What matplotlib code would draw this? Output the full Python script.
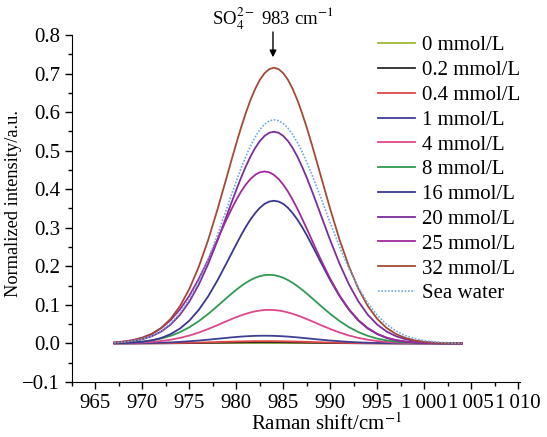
import numpy as np
import matplotlib
matplotlib.use("Agg")
import matplotlib.pyplot as plt
from matplotlib.ticker import MultipleLocator, FixedLocator

# --- Global Plotting Settings ---
plt.rcParams['font.family'] = 'serif'
plt.rcParams['font.serif'] = ['Liberation Serif', 'DejaVu Serif']
plt.rcParams['mathtext.fontset'] = 'stix'
plt.rcParams['font.size'] = 15

# --- Spectra (normalized Raman intensity, SO4 band) ---
# sampled every 1 cm-1 on the wings and every 0.5 cm-1 around the peak
shift = np.concatenate([np.arange(967, 979), np.arange(979, 989, 0.5), np.arange(989, 1005)])

c_0 = [0.0] * 48
c_02 = [0, 0, 0, 0.0001, 0.0002, 0.0003, 0.0004, 0.0006, 0.0008, 0.0011, 0.0015, 0.0018,
        0.0022, 0.0023, 0.0025, 0.0026, 0.0028, 0.0029, 0.0029, 0.003, 0.003, 0.003,
        0.0029, 0.0029, 0.0028, 0.0026, 0.0025, 0.0023, 0.0022, 0.002, 0.0018, 0.0016,
        0.0015, 0.0011, 0.0008, 0.0006, 0.0004, 0.0003, 0.0002, 0.0001, 0, 0, 0, 0, 0, 0, 0, 0]
c_04 = [0, 0.0001, 0.0001, 0.0002, 0.0003, 0.0005, 0.0008, 0.0012, 0.0017, 0.0023, 0.0029, 0.0036,
        0.0044, 0.0047, 0.0050, 0.0053, 0.0055, 0.0057, 0.0059, 0.006, 0.006, 0.006,
        0.0059, 0.0057, 0.0055, 0.0053, 0.0050, 0.0047, 0.0044, 0.004, 0.0036, 0.0033,
        0.0029, 0.0023, 0.0017, 0.0012, 0.0008, 0.0005, 0.0003, 0.0002, 0.0001, 0.0001,
        0, 0, 0, 0, 0, 0]
c_1 = [0.0001, 0.0002, 0.0004, 0.0007, 0.0011, 0.0018, 0.0027, 0.0040, 0.0056, 0.0075, 0.0097, 0.0121,
       0.0145, 0.0157, 0.0167, 0.0177, 0.0185, 0.0191, 0.0196, 0.0199, 0.020, 0.0199,
       0.0196, 0.0191, 0.0185, 0.0177, 0.0167, 0.0157, 0.0145, 0.0133, 0.0121, 0.0109,
       0.0097, 0.0075, 0.0056, 0.0040, 0.0027, 0.0018, 0.0011, 0.0007, 0.0004, 0.0002,
       0.0001, 0, 0, 0, 0, 0]
c_4 = [0.0004, 0.0007, 0.0013, 0.0023, 0.0038, 0.0062, 0.0096, 0.0143, 0.0205, 0.0282, 0.0374, 0.0475,
       0.0580, 0.0632, 0.0681, 0.0726, 0.0768, 0.0803, 0.0832, 0.0853, 0.0866, 0.087,
       0.0866, 0.0853, 0.0832, 0.0803, 0.0768, 0.0726, 0.0681, 0.0632, 0.0580, 0.0528,
       0.0475, 0.0374, 0.0282, 0.0205, 0.0143, 0.0096, 0.0062, 0.0038, 0.0023, 0.0013,
       0.0007, 0.0004, 0.0002, 0.0001, 0, 0]
c_8 = [0.0008, 0.0015, 0.0027, 0.0046, 0.0078, 0.0126, 0.0196, 0.0293, 0.0420, 0.0578, 0.0765, 0.0972,
       0.1187, 0.1292, 0.1393, 0.1486, 0.1571, 0.1643, 0.1702, 0.1744, 0.1771, 0.178,
       0.1771, 0.1744, 0.1702, 0.1643, 0.1571, 0.1486, 0.1393, 0.1292, 0.1187, 0.1080,
       0.0972, 0.0765, 0.0578, 0.0420, 0.0293, 0.0196, 0.0126, 0.0078, 0.0046, 0.0027,
       0.0015, 0.0008, 0.0004, 0.0002, 0.0001, 0]
c_16 = [0.0005, 0.0011, 0.0022, 0.0044, 0.0081, 0.0141, 0.0241, 0.0385, 0.0592, 0.0870, 0.1221, 0.1639,
        0.2102, 0.2340, 0.2575, 0.2804, 0.3019, 0.3212, 0.3378, 0.3516, 0.3619, 0.3679,
        0.370, 0.3679, 0.3619, 0.3516, 0.3378, 0.3212, 0.3019, 0.2804, 0.2575, 0.2340,
        0.2102, 0.1639, 0.1221, 0.0870, 0.0592, 0.0385, 0.0241, 0.0141, 0.0081, 0.0044,
        0.0022, 0.0011, 0.0005, 0.0002, 0.0001, 0]
c_20 = [0.0017, 0.0033, 0.0061, 0.0109, 0.0187, 0.0308, 0.0488, 0.0743, 0.1087, 0.1526, 0.2060, 0.2673,
        0.3330, 0.3662, 0.3986, 0.4297, 0.4584, 0.4845, 0.5067, 0.5248, 0.5380, 0.5463,
        0.549, 0.5463, 0.5380, 0.5248, 0.5067, 0.4845, 0.4584, 0.4297, 0.3986, 0.3662,
        0.3330, 0.2673, 0.2060, 0.1526, 0.1087, 0.0743, 0.0488, 0.0308, 0.0187, 0.0109,
        0.0061, 0.0033, 0.0017, 0.0008, 0.0004, 0.0002]
c_25 = [0.0027, 0.0050, 0.0088, 0.0152, 0.0250, 0.0397, 0.0603, 0.0883, 0.1240, 0.1674, 0.2171, 0.2705,
        0.3238, 0.3491, 0.3724, 0.3936, 0.4117, 0.4264, 0.4371, 0.4438, 0.446, 0.4438,
        0.4371, 0.4264, 0.4117, 0.3936, 0.3724, 0.3491, 0.3238, 0.2975, 0.2705, 0.2435,
        0.2171, 0.1674, 0.1240, 0.0883, 0.0603, 0.0397, 0.0250, 0.0152, 0.0088, 0.0050,
        0.0027, 0.0014, 0.0007, 0.0003, 0.0001, 0.0001]
c_32 = [0.0022, 0.0043, 0.0079, 0.0142, 0.0243, 0.0401, 0.0636, 0.0967, 0.1416, 0.1988, 0.2683, 0.3481,
        0.4336, 0.4769, 0.5191, 0.5596, 0.5970, 0.6310, 0.6599, 0.6835, 0.7007, 0.7114,
        0.715, 0.7114, 0.7007, 0.6835, 0.6599, 0.6310, 0.5970, 0.5596, 0.5191, 0.4769,
        0.4336, 0.3481, 0.2683, 0.1988, 0.1416, 0.0967, 0.0636, 0.0401, 0.0243, 0.0142,
        0.0079, 0.0043, 0.0022, 0.0011, 0.0005, 0.0002]
sea = [0.0018, 0.0035, 0.0064, 0.0115, 0.0197, 0.0325, 0.0516, 0.0785, 0.1148, 0.1612, 0.2177, 0.2823,
       0.3518, 0.3869, 0.4211, 0.4540, 0.4843, 0.5119, 0.5353, 0.5545, 0.5684, 0.5771,
       0.58, 0.5775, 0.5701, 0.5580, 0.5417, 0.5210, 0.4971, 0.4701, 0.4408, 0.4098,
       0.3776, 0.3126, 0.2500, 0.1937, 0.1444, 0.1044, 0.0731, 0.0493, 0.0319, 0.0203,
       0.0122, 0.0070, 0.0041, 0.0023, 0.0012, 0.0006]

labels = ['0 mmol/L', '0.2 mmol/L', '0.4 mmol/L', '1 mmol/L', '4 mmol/L', '8 mmol/L',
          '16 mmol/L', '20 mmol/L', '25 mmol/L', '32 mmol/L']
series = [c_0, c_02, c_04, c_1, c_4, c_8, c_16, c_20, c_25, c_32]
colors = ['#9cb83a', '#2a2a2a', '#e04848', '#3f3f96', '#e0468a', '#2f9a52',
          '#3b3790', '#7b2d9c', '#a02a9e', '#a24a35']

xticks = [965, 970, 975, 980, 985, 990, 995, 1000, 1005, 1010]
xticklabels = ['965', '970', '975', '980', '985', '990', '995',
               '1\u2009000', '1\u2009005', '1\u2009010']

peak_pos = 983.9
peak_val = 0.715

fig = plt.figure(figsize=(5.47, 4.37), dpi=100)
ax = fig.add_axes([0.1316, 0.1259, 0.8190, 0.7941])

for y, lab, col in zip(series, labels, colors):
    ax.plot(shift, y, color=col, lw=1.3, label=lab)
ax.plot(shift, sea, color='#6fa8dc', lw=1.2, ls=(0, (1, 1)), label='Sea water')

ax.set_xlim(962.5, 1010.2)
ax.set_ylim(-0.1, 0.8)
ax.xaxis.set_major_locator(FixedLocator(xticks))
ax.set_xticklabels(xticklabels)
ax.xaxis.set_minor_locator(MultipleLocator(2.5))
ax.yaxis.set_major_locator(MultipleLocator(0.1))
ax.yaxis.set_minor_locator(MultipleLocator(0.05))
ax.tick_params(which='major', direction='out', length=5, width=1, labelsize=15)
ax.tick_params(which='minor', direction='out', length=3, width=1)
ax.spines['top'].set_visible(False)
ax.spines['right'].set_visible(False)

ax.set_xlabel('Raman shift/cm$^{-1}$', fontsize=15)
ax.xaxis.set_label_coords(0.567, -0.09)
ax.set_ylabel('Normalized intensity/a.u.', fontsize=13.2)
ax.yaxis.set_label_coords(-0.112, 0.514)

ax.annotate('', xy=(peak_pos, peak_val + 0.02), xytext=(peak_pos, 0.815),
            arrowprops=dict(arrowstyle='-|>', color='black', lw=1, mutation_scale=10),
            annotation_clip=False)
ax.text(peak_pos, 0.826, 'SO$_4^{2-}$ 983 cm$^{-1}$', ha='center', va='baseline', fontsize=13.5)

ax.legend(loc='upper left', bbox_to_anchor=(0.691, 0.918), bbox_transform=fig.transFigure,
          frameon=False, fontsize=15, handlelength=1.78, handletextpad=0.35, labelspacing=0.25,
          borderpad=0, borderaxespad=0)

plt.savefig('out.png', dpi=100)
plt.close()
